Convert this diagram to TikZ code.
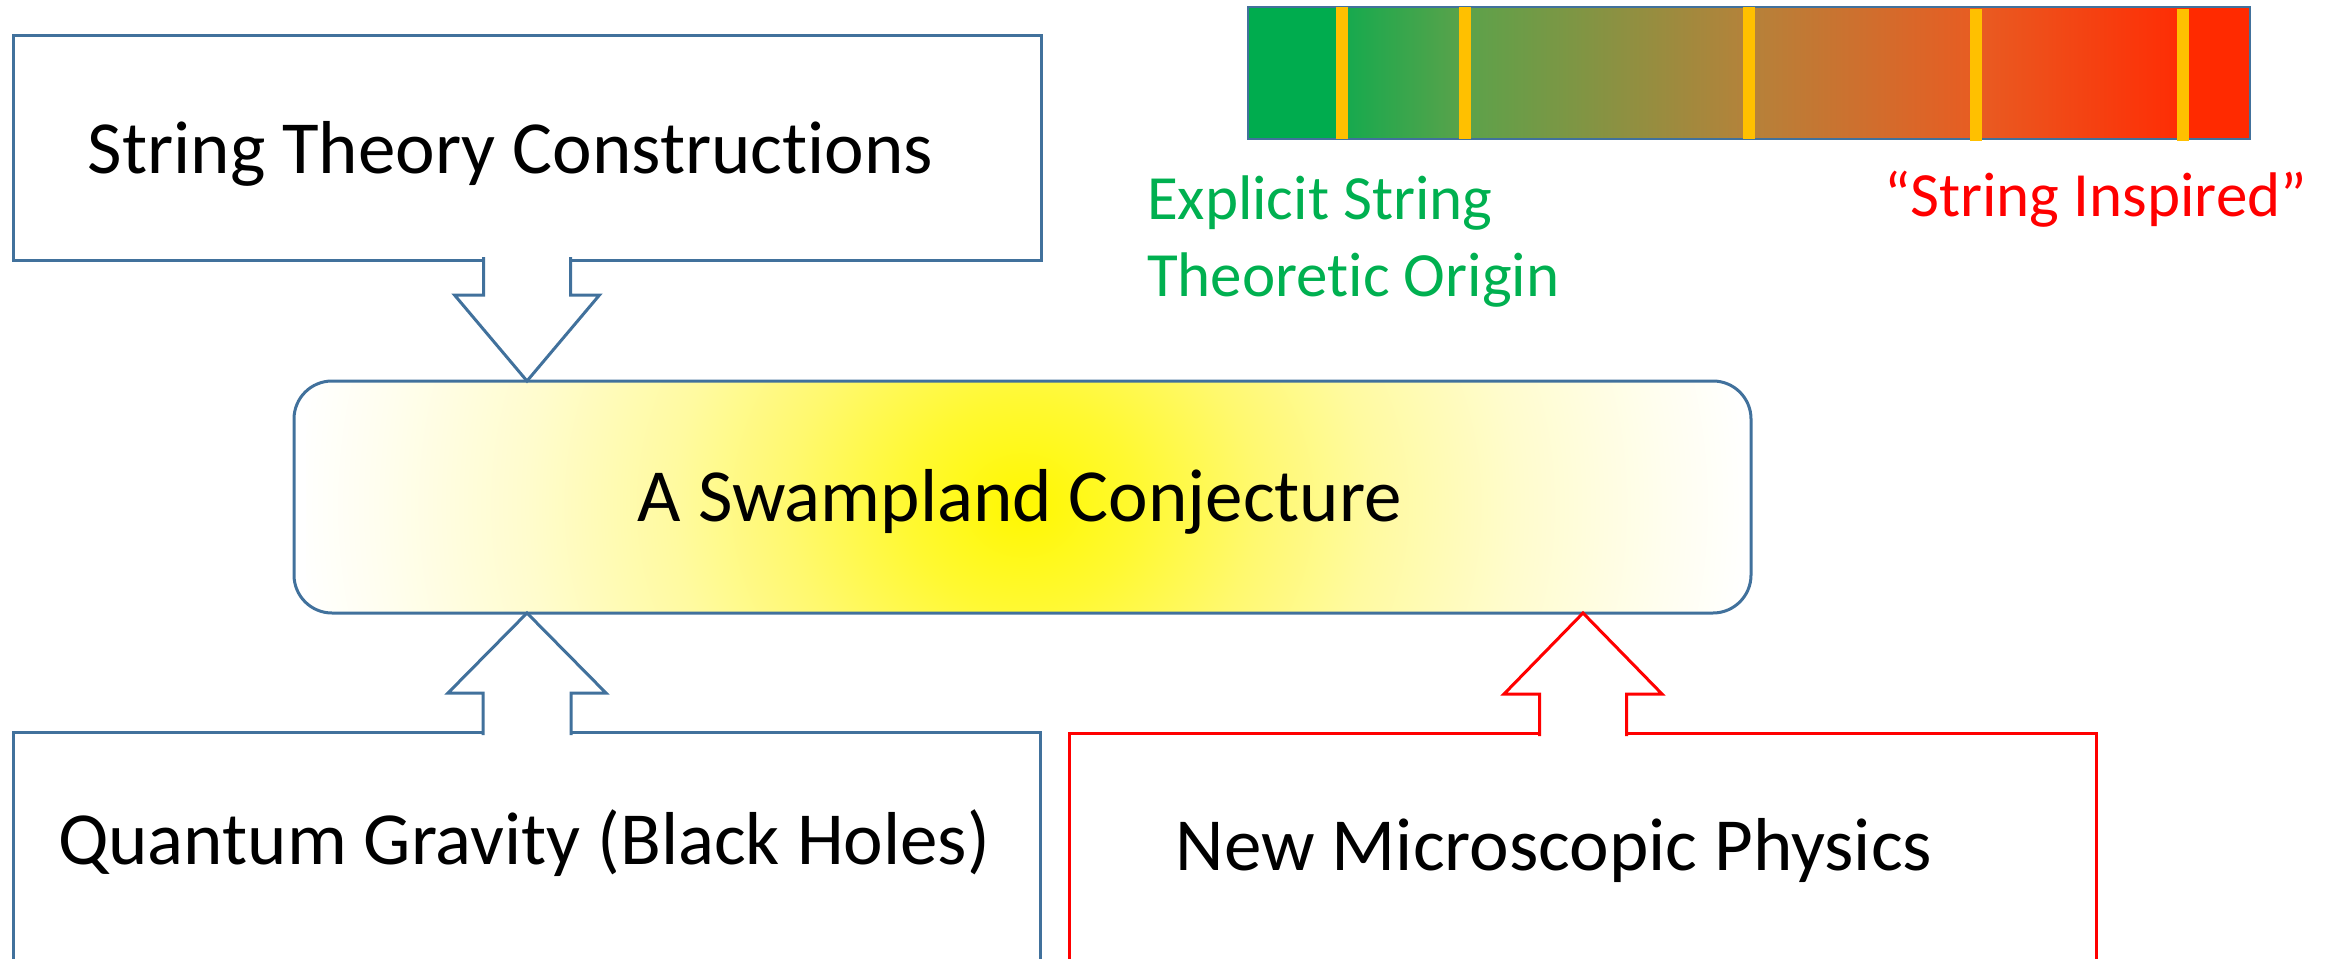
\documentclass[tikz,border=0pt]{standalone}
\usepackage{fontspec}
\setmainfont{Carlito}[Ligatures={NoCommon}]
\usetikzlibrary{calc}

\definecolor{boxblue}{HTML}{41719C}
\definecolor{boxred}{HTML}{FF0000}
\definecolor{txtgreen}{HTML}{00B050}
\definecolor{tickgold}{HTML}{FFC000}
% glow of the central box
\definecolor{glow0}{HTML}{FFF800}
\definecolor{glow1}{RGB}{255,249,50}
\definecolor{glow2}{RGB}{255,249,110}
\definecolor{glow3}{RGB}{255,250,160}
\definecolor{glow4}{RGB}{255,252,205}
\definecolor{glow5}{RGB}{255,254,238}
% colour scale green -> red
\definecolor{bar0}{HTML}{00AC4E}
\definecolor{bar1}{HTML}{14AA4E}
\definecolor{bar2}{HTML}{5CA24A}
\definecolor{bar3}{HTML}{B5823A}
\definecolor{bar4}{HTML}{E85C22}
\definecolor{bar5}{HTML}{FF2C04}
\definecolor{bar6}{HTML}{FF2A00}

% radial glow; the 25bp ring is mapped onto the edge of the shaded path
\pgfdeclareradialshading{swampglow}{\pgfpoint{0bp}{0bp}}{%
  color(0bp)=(glow0); color(4bp)=(glow1); color(8bp)=(glow2);
  color(12bp)=(glow3); color(17bp)=(glow4); color(22bp)=(glow5);
  color(25bp)=(white); color(50bp)=(white)}

\tikzset{
  outline/.style={draw=boxblue, line width=3pt},
  redoutline/.style={draw=boxred, line width=3pt},
  plainbox/.style={rectangle, inner sep=0pt, outer sep=0pt},
  bigtext/.style={font=\fontsize{75}{90}\selectfont, inner sep=0pt, outer sep=0pt},
  smalltext/.style={font=\fontsize{63}{77}\selectfont, inner sep=0pt, outer sep=0pt},
  tick/.style={draw=tickgold, line width=12pt}
}

\begin{document}
\begin{tikzpicture}[x=1pt, y=-1pt, line join=miter]
\clip (0,0) rectangle (2328,958);

% boxes
\node[plainbox, outline, minimum width=1028pt, minimum height=224pt] (stc) at (527,148) {};
\node[plainbox, outline, rounded corners=38pt, minimum width=1457pt, minimum height=232pt,
  path picture={\shade[shading=swampglow]
    ($(path picture bounding box.center)+(-716.5,-642)$) rectangle
    ($(path picture bounding box.center)+(723.5,658)$);}] (mid) at (1022.5,497) {};
\node[plainbox, outline, minimum width=1027pt, minimum height=268pt] (qg) at (526.5,866) {};
\node[plainbox, redoutline, minimum width=1027pt, minimum height=267pt] (nmp) at (1582.5,866.5) {};

% block arrows
\coordinate (a1) at (527,0);
\coordinate (a2) at (1583,0);
\draw[outline, fill=white]
  ($(stc.south -| a1)+(-43.5,-3)$) -- ($(mid.north -| a1)+(-43.5,-86)$)
  -- ($(mid.north -| a1)+(-72.5,-86)$) -- (mid.north -| a1)
  -- ($(mid.north -| a1)+(72.5,-86)$) -- ($(mid.north -| a1)+(43.5,-86)$)
  -- ($(stc.south -| a1)+(43.5,-3)$);
\draw[outline, fill=white]
  ($(qg.north -| a1)+(-44,3)$) -- ($(mid.south -| a1)+(-44,80)$)
  -- ($(mid.south -| a1)+(-79,80)$) -- (mid.south -| a1)
  -- ($(mid.south -| a1)+(79,80)$) -- ($(mid.south -| a1)+(44,80)$)
  -- ($(qg.north -| a1)+(44,3)$);
\draw[redoutline, fill=white]
  ($(nmp.north -| a2)+(-43.5,3)$) -- ($(mid.south -| a2)+(-43.5,81)$)
  -- ($(mid.south -| a2)+(-79,81)$) -- (mid.south -| a2)
  -- ($(mid.south -| a2)+(79,81)$) -- ($(mid.south -| a2)+(43.5,81)$)
  -- ($(nmp.north -| a2)+(43.5,3)$);

% texts
\node[bigtext, anchor=base] (stctext) at (510.5,173) {String Theory Constructions};
\node[bigtext, anchor=base] (midtext) at (1020,521) {A Swampland Conjecture};
\node[bigtext, anchor=base] (qgtext) at (524,864) {Quantum Gravity (Black Holes)};
\node[bigtext, anchor=base] (nmptext) at (1554,870) {New Microscopic Physics};

% colour scale
\shade[left color=bar0, right color=bar0] (1248,7) rectangle (1342.5,139);
\shade[left color=bar1, right color=bar2] (1342,7) rectangle (1465.5,139);
\shade[left color=bar2, right color=bar3] (1465,7) rectangle (1749.5,139);
\shade[left color=bar3, right color=bar4] (1749,7) rectangle (1976.5,139);
\shade[left color=bar4, right color=bar5] (1976,7) rectangle (2183.5,139);
\shade[left color=bar6, right color=bar6] (2183,7) rectangle (2250,139);
\draw[boxblue, line width=2.5pt] (1248,7) rectangle (2250,139);
\draw[tick] (1342,7) -- (1342,139);
\draw[tick] (1465,7) -- (1465,139);
\draw[tick] (1749,7) -- (1749,139);
\draw[tick] (1976,9) -- (1976,141);
\draw[tick] (2183,9) -- (2183,141);

\node[smalltext, text=txtgreen, anchor=base west] (origin1) at (1147,219) {Explicit String};
\node[smalltext, text=txtgreen, anchor=base west] (origin2) at (1147,296) {Theoretic Origin};
\node[smalltext, text=boxred, anchor=base east] (inspired) at (2307,216) {“String Inspired”};
\end{tikzpicture}
\end{document}
